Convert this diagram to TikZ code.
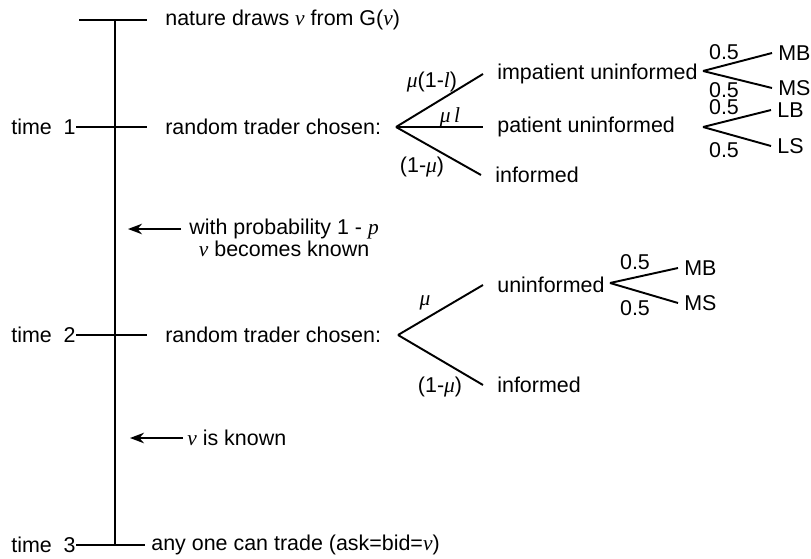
\documentclass[tikz,border=0pt]{standalone}
\usepackage{fontspec}
\setmainfont{Liberation Sans}
\newfontfamily\tms{Liberation Serif}
\usetikzlibrary{arrows.meta, positioning}
\newcommand{\itvar}[1]{{\tms\itshape #1}}

\begin{document}
\begin{tikzpicture}[
    x=0.02cm, y=-0.02cm,
    txt/.style={
        anchor=west,
        inner sep=0pt,
        font=\fontsize{12.2}{14.6}\selectfont
    },
    timelbl/.style={
        txt,
        anchor=east
    },
    branchend/.style={
        txt,
        inner xsep=0.28cm
    },
    leafend/.style={
        txt,
        inner xsep=0.12cm
    },
    prob/.style={
        inner sep=0pt,
        font=\fontsize{12.2}{14.6}\selectfont
    },
    line/.style={
        line width=1.1pt
    },
    arrow/.style={
        -{Stealth[length=8pt,width=6pt]},
        line width=1.1pt
    }
]

\useasboundingbox (0,0) rectangle (811,558);

% Time line
\coordinate (top) at (115,20);
\coordinate (bottom) at (115,545);
\draw[line] (top) -- (bottom);
\draw[line] (79,20) -- (147,20);

% Time labels
\node[timelbl] (t1) at (76,127) {time\ \ 1};
\node[timelbl] (t2) at (76,335) {time\ \ 2};
\node[timelbl] (t3) at (76,545) {time\ \ 3};
\draw[line] (t1.east) -- ++(71,0);
\draw[line] (t2.east) -- ++(71,0);
\draw[line] (t3.east) -- ++(69,0);

% Events
\node[txt] (nature) at (165,20) {nature draws \itvar{v} from G(\itvar{v})};
\node[txt] (rt1) at (165,127) {random trader chosen:};
\node[txt] (rt2) at (165,335) {random trader chosen:};
\node[txt] (any) at (151,545) {any one can trade (ask=bid=\itvar{v})};

% Information arrows
\coordinate (a1) at (128,229);
\node[txt, inner xsep=0.16cm] (wp1) at (181,229) {with probability 1 - \itvar{p}};
\node[txt, below=0.02cm of wp1] (wp2) {\itvar{v} becomes known};
\draw[arrow] (wp1.west) -- (a1);

\coordinate (a2) at (130,438);
\node[txt, inner xsep=0.08cm] (known) at (183,438) {\itvar{v} is known};
\draw[arrow] (known.west) -- (a2);

% Tree at time 1
\coordinate (r1) at (396,127);
\node[branchend] (imp) at (483,74) {impatient uninformed};
\node[branchend] (pat) at (483,127) {patient uninformed};
\node[branchend] (inf1) at (481,175) {informed};
\draw[line] (r1) -- (imp.west);
\draw[line] (r1) -- (pat.west);
\draw[line] (r1) -- (inf1.west);
\node[prob] (l1) at (432,82) {\itvar{μ}(1-\itvar{l})};
\node[prob] (l2) at (450,117) {\itvar{μ}\,\itvar{l}};
\node[prob] (l3) at (422,167) {(1-\itvar{μ})};

\coordinate (s1) at (703,71);
\node[leafend] (mb1) at (772,53) {MB};
\node[leafend] (ms1) at (772,88) {MS};
\draw[line] (s1) -- (mb1.west);
\draw[line] (s1) -- (ms1.west);
\node[prob] (q1) at (724,52) {0.5};
\node[prob] (q2) at (724,90) {0.5};

\coordinate (s2) at (703,127);
\node[leafend] (lb) at (771,110) {LB};
\node[leafend] (ls) at (771,146) {LS};
\draw[line] (s2) -- (lb.west);
\draw[line] (s2) -- (ls.west);
\node[prob] (q3) at (724,107) {0.5};
\node[prob] (q4) at (724,150) {0.5};

% Tree at time 2
\coordinate (r2) at (398,335);
\node[branchend] (un2) at (483,285) {uninformed};
\node[branchend] (inf2) at (483,385) {informed};
\draw[line] (r2) -- (un2.west);
\draw[line] (r2) -- (inf2.west);
\node[prob] (l4) at (425,303) {\itvar{μ}};
\node[prob] (l5) at (440,387) {(1-\itvar{μ})};

\coordinate (s3) at (610,283);
\node[leafend] (mb2) at (678,268) {MB};
\node[leafend] (ms2) at (678,303) {MS};
\draw[line] (s3) -- (mb2.west);
\draw[line] (s3) -- (ms2.west);
\node[prob] (q5) at (635,262) {0.5};
\node[prob] (q6) at (635,308) {0.5};

\end{tikzpicture}
\end{document}
